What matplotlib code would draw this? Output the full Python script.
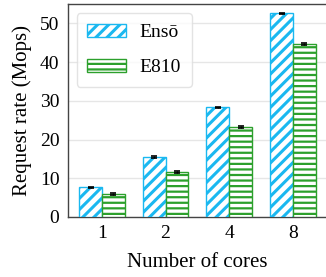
import numpy as np
import matplotlib
matplotlib.use("Agg")
import matplotlib.pyplot as plt

cores = ["1", "2", "4", "8"]
enso = [7.6, 15.5, 28.3, 52.6]
e810 = [5.9, 11.6, 23.2, 44.7]
enso_err = [0.15, 0.15, 0.2, 0.2]
e810_err = [0.15, 0.15, 0.2, 0.2]

plt.rcParams['font.family'] = ['Liberation Serif', 'DejaVu Serif']
plt.rcParams['hatch.linewidth'] = 2.2

blue = '#1ab8f0'
green = '#2ca02c'

fig = plt.figure(figsize=(3.26, 2.77), dpi=100)
ax = fig.add_axes([0.208, 0.217, 0.795, 0.768])

x = np.arange(len(cores))
w = 0.357
b1 = ax.bar(x - w/2, enso, w, color='white', edgecolor=blue, hatch='///', linewidth=1,
            yerr=enso_err, capsize=2, error_kw=dict(ecolor='black', elinewidth=1, capthick=1.2),
            label='Ensō', zorder=3)
b2 = ax.bar(x + w/2, e810, w, color='white', edgecolor=green, hatch='---', linewidth=1,
            yerr=e810_err, capsize=2, error_kw=dict(ecolor='black', elinewidth=1, capthick=1.2),
            label='E810', zorder=3)
# thinner horizontal hatch for the green bars
for p in b2.patches:
    if hasattr(p, 'set_hatch_linewidth'):
        p.set_hatch_linewidth(1.6)

ax.set_xlim(-0.535, 3.535)
ax.set_ylim(0, 55)
ax.set_yticks([0, 10, 20, 30, 40, 50])
ax.set_xticks(x)
ax.set_xticklabels(cores)
ax.tick_params(labelsize=14, length=0, pad=6)
ax.yaxis.grid(True, color='#e6e6e6', linewidth=1, zorder=0)
ax.set_axisbelow(True)
for s in ax.spines.values():
    s.set_color('#444444')
    s.set_linewidth(1)
ax.spines['right'].set_visible(False)

ax.set_xlabel('Number of cores', fontsize=15, labelpad=8)
ax.set_ylabel('Request rate (Mops)', fontsize=15, labelpad=6)

leg = ax.legend(loc='upper left', fontsize=14, handlelength=2.0, handleheight=0.7,
                borderpad=0.55, labelspacing=0.9, handletextpad=0.7, fancybox=True,
                bbox_to_anchor=(0.0, 1.0), borderaxespad=0.45)
leg.get_frame().set_edgecolor('#dddddd')
for h in leg.legend_handles[1:]:
    if hasattr(h, 'set_hatch_linewidth'):
        h.set_hatch_linewidth(1.6)

fig.savefig('out.png', dpi=100)
